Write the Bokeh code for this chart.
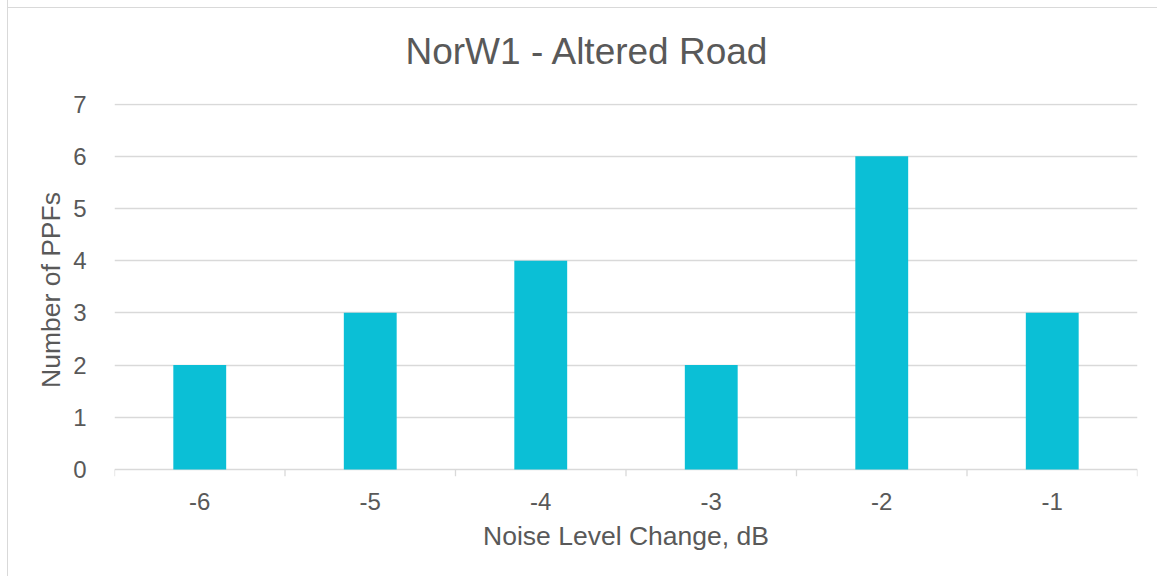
from bokeh.plotting import figure
from bokeh.models import FixedTicker, Range1d
from bokeh.embed import file_html
from bokeh.resources import INLINE

title_text = "NorW1 - Altered Road"
categories = ["-6", "-5", "-4", "-3", "-2", "-1"]
counts = [2, 3, 4, 2, 6, 3]
y_ticks = [0, 1, 2, 3, 4, 5, 6, 7]

xs = [i + 1 for i in range(len(categories))]
bounds = [i + 0.5 for i in range(len(categories) + 1)]

FONT = "Liberation Sans"
TXT = "#595959"
GRID = "#d9d9d9"
BAR = "#0bbfd6"

p = figure(width=1150, height=583, output_backend="svg", toolbar_location=None,
           x_range=Range1d(0.5, 6.5), y_range=Range1d(-0.134, 7.01),
           min_border_left=106, min_border_right=21, min_border_top=110, min_border_bottom=100)
p.styles = {"border-left": "1px solid #d9d9d9",
            "margin-left": "7px", "margin-top": "-7px",
            "background": "linear-gradient(#d9d9d9, #d9d9d9) 0 14px / 100% 1px no-repeat, white"}
p.outline_line_color = None
p.background_fill_color = "white"
p.border_fill_color = None

p.title.text = title_text
p.title.text_font = FONT
p.title.text_font_size = "37px"
p.title.text_font_style = "normal"
p.title.text_color = TXT
p.title.align = "left"
p.title.offset = 291
p.title.standoff = 64

p.vbar(x=xs, top=counts, width=0.31, fill_color=BAR, line_color=None)
p.segment(x0=bounds, y0=[0] * len(bounds), x1=bounds, y1=[-0.134] * len(bounds),
          line_color=GRID, line_width=1.3)

p.xgrid.visible = False
p.ygrid.grid_line_color = GRID
p.ygrid.grid_line_width = 1.3

xa = p.xaxis[0]
xa.ticker = FixedTicker(ticks=xs)
xa.major_label_overrides = {x: c for x, c in zip(xs, categories)}
xa.axis_line_color = None
xa.major_tick_line_color = None
xa.minor_tick_line_color = None
xa.major_label_text_font = FONT
xa.major_label_text_font_size = "24px"
xa.major_label_text_color = TXT
xa.major_label_standoff = 10
xa.axis_label = "Noise Level Change, dB"
xa.axis_label_text_font = FONT
xa.axis_label_text_font_size = "26.5px"
xa.axis_label_text_font_style = "normal"
xa.axis_label_text_color = TXT
xa.axis_label_standoff = 8

ya = p.yaxis[0]
ya.ticker = FixedTicker(ticks=y_ticks)
ya.axis_line_color = None
ya.major_tick_line_color = None
ya.minor_tick_line_color = None
ya.major_label_text_font = FONT
ya.major_label_text_font_size = "24px"
ya.major_label_text_color = TXT
ya.major_label_standoff = 22
ya.axis_label = "Number of PPFs"
ya.axis_label_text_font = FONT
ya.axis_label_text_font_size = "26.5px"
ya.axis_label_text_font_style = "normal"
ya.axis_label_text_color = TXT
ya.axis_label_standoff = 4

open("out.html", "w").write(file_html(p, INLINE))
